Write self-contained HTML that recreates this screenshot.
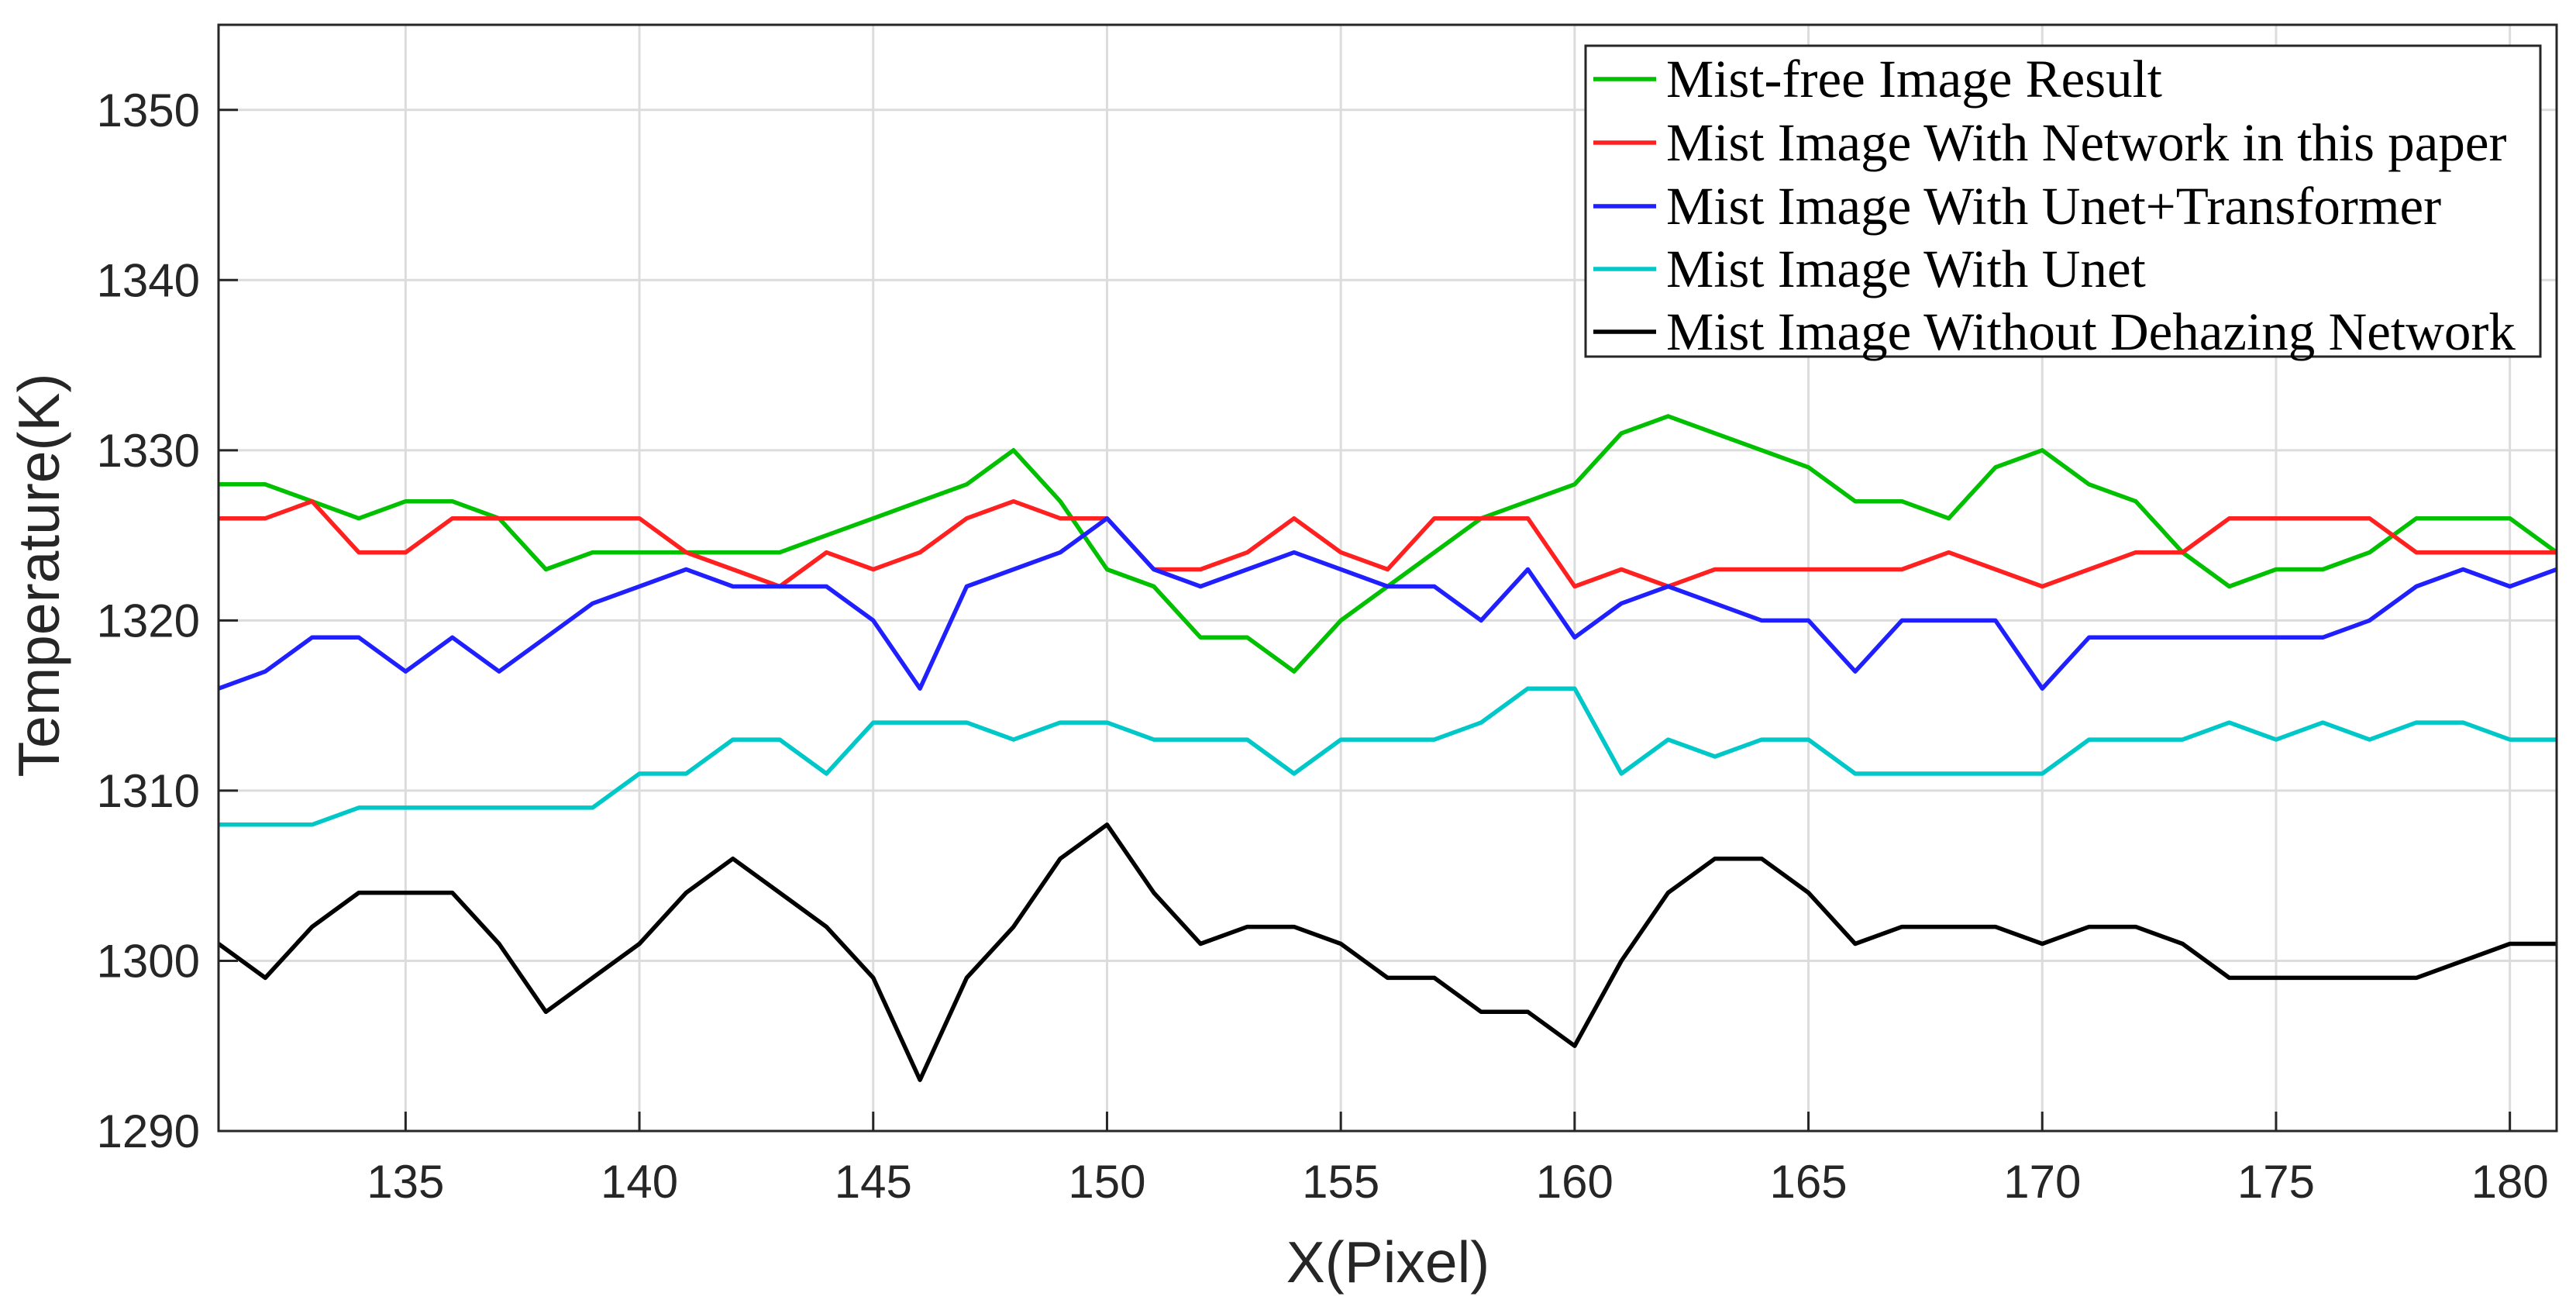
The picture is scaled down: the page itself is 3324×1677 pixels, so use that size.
<!DOCTYPE html>
<html><head><meta charset="utf-8"><style>html,body{margin:0;padding:0;background:#fff}svg{display:block}</style></head>
<body>
<svg id="chart" xmlns="http://www.w3.org/2000/svg" width="3324" height="1677" viewBox="0 0 3324 1677">
<rect width="3324" height="1677" fill="#fff"/>
<g id="grid"></g>
<g id="series"></g>
<rect x="282" y="32" width="3017" height="1427" fill="none" stroke="#262626" stroke-width="3"/>
<g id="ticks"></g>
<text transform="translate(76,742) rotate(-90)" text-anchor="middle" font-family="Liberation Sans, sans-serif" font-size="75" fill="#262626">Temperature(K)</text>
<text x="1791" y="1654" text-anchor="middle" font-family="Liberation Sans, sans-serif" font-size="75" fill="#262626">X(Pixel)</text>
<g id="legend">
<rect x="2046" y="59" width="1232" height="401" fill="#fff" stroke="#262626" stroke-width="3"/>
</g>
</svg>
<script>
const xs = [131,132,133,134,135,136,137,138,139,140,141,142,143,144,145,146,147,148,149,150,151,152,153,154,155,156,157,158,159,160,161,162,163,164,165,166,167,168,169,170,171,172,173,174,175,176,177,178,179,180,181];
const greenVals = [1328,1328,1327,1326,1327,1327,1326,1323,1324,1324,1324,1324,1324,1325,1326,1327,1328,1330,1327,1323,1322,1319,1319,1317,1320,1322,1324,1326,1327,1328,1331,1332,1331,1330,1329,1327,1327,1326,1329,1330,1328,1327,1324,1322,1323,1323,1324,1326,1326,1326,1324];
const redVals = [1326,1326,1327,1324,1324,1326,1326,1326,1326,1326,1324,1323,1322,1324,1323,1324,1326,1327,1326,1326,1323,1323,1324,1326,1324,1323,1326,1326,1326,1322,1323,1322,1323,1323,1323,1323,1323,1324,1323,1322,1323,1324,1324,1326,1326,1326,1326,1324,1324,1324,1324];
const blueVals = [1316,1317,1319,1319,1317,1319,1317,1319,1321,1322,1323,1322,1322,1322,1320,1316,1322,1323,1324,1326,1323,1322,1323,1324,1323,1322,1322,1320,1323,1319,1321,1322,1321,1320,1320,1317,1320,1320,1320,1316,1319,1319,1319,1319,1319,1319,1320,1322,1323,1322,1323];
const cyanVals = [1308,1308,1308,1309,1309,1309,1309,1309,1309,1311,1311,1313,1313,1311,1314,1314,1314,1313,1314,1314,1313,1313,1313,1311,1313,1313,1313,1314,1316,1316,1311,1313,1312,1313,1313,1311,1311,1311,1311,1311,1313,1313,1313,1314,1313,1314,1313,1314,1314,1313,1313];
const blackVals = [1301,1299,1302,1304,1304,1304,1301,1297,1299,1301,1304,1306,1304,1302,1299,1293,1299,1302,1306,1308,1304,1301,1302,1302,1301,1299,1299,1297,1297,1295,1300,1304,1306,1306,1304,1301,1302,1302,1302,1301,1302,1302,1301,1299,1299,1299,1299,1299,1300,1301,1301];
const xTicks = [135,140,145,150,155,160,165,170,175,180];
const yTicks = [1290,1300,1310,1320,1330,1340,1350];
const seriesNames = ["Mist-free Image Result","Mist Image With Network in this paper","Mist Image With Unet+Transformer","Mist Image With Unet","Mist Image Without Dehazing Network"];
const seriesColors = ["#00c000","#ff2020","#2020ff","#00c8c8","#000000"];
const seriesKeys = ["green-series","red-series","blue-series","cyan-series","black-series"];

const NS="http://www.w3.org/2000/svg";
const L=282,R=3299,T=32,B=1459,X0=131,X1=181,Y0=1290,Y1=1355;
const sx=v=>L+(v-X0)/(X1-X0)*(R-L);
const sy=v=>B-(v-Y0)/(Y1-Y0)*(B-T);
function mk(tag,attrs,parent){const e=document.createElementNS(NS,tag);for(const k in attrs)e.setAttribute(k,attrs[k]);parent.appendChild(e);return e;}
const grid=document.getElementById('grid'),ticks=document.getElementById('ticks'),ser=document.getElementById('series'),leg=document.getElementById('legend');
xTicks.forEach(t=>{
  const g=mk('line',{x1:sx(t),x2:sx(t),y1:T,y2:B,stroke:'#dcdcdc','stroke-width':3},grid);
  
  
  const tk=mk('line',{x1:sx(t),x2:sx(t),y1:B,y2:B-25,stroke:'#262626','stroke-width':3},ticks);
  
  
  const lb=mk('text',{x:sx(t),y:B+86,'text-anchor':'middle','font-family':'Liberation Sans, sans-serif','font-size':60,fill:'#262626'},ticks);
  lb.textContent=t;
  
  
});
yTicks.forEach(t=>{
  const g=mk('line',{x1:L,x2:R,y1:sy(t),y2:sy(t),stroke:'#dcdcdc','stroke-width':3},grid);
  
  
  const tk=mk('line',{x1:L,x2:L+25,y1:sy(t),y2:sy(t),stroke:'#262626','stroke-width':3},ticks);
  
  
  const lb=mk('text',{x:L-24,y:sy(t)+21,'text-anchor':'end','font-family':'Liberation Sans, sans-serif','font-size':60,fill:'#262626'},ticks);
  lb.textContent=t;
  
  
});
const all=[greenVals,redVals,blueVals,cyanVals,blackVals];
all.forEach((vals,i)=>{
  const d=vals.map((v,j)=>(j?'L':'M')+sx(xs[j]).toFixed(1)+' '+sy(v).toFixed(1)).join(' ');
  const p=mk('path',{d:d,fill:'none',stroke:seriesColors[i],'stroke-width':5.5,'stroke-linejoin':'round'},ser);
  
  
});
const rowsY=[102,184,266,347,428];
seriesNames.forEach((n,i)=>{
  const ln=mk('line',{x1:2056,x2:2137,y1:rowsY[i],y2:rowsY[i],stroke:seriesColors[i],'stroke-width':5.5},leg);
  
  
  const tx=mk('text',{x:2150,y:rowsY[i]+23,'font-family':'Liberation Serif, serif','font-size':69,fill:'#000'},leg);
  tx.textContent=n;
  
  
});
</script>
</body></html>
